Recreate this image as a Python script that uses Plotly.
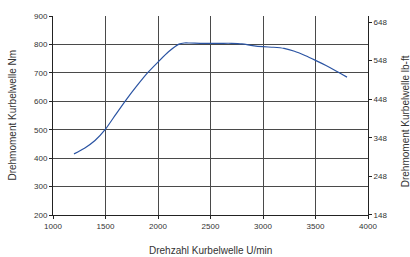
import plotly.graph_objects as go

rpm = [1200, 1300, 1400, 1500, 1600, 1700, 1800, 1900, 2000, 2100, 2200, 2250, 2300,
       2400, 2500, 2600, 2700, 2800, 2900, 3000, 3100, 3200, 3300, 3400, 3500, 3600, 3700, 3800]
torque_nm = [415, 435, 462, 502, 555, 607, 655, 700, 738, 774, 801, 805, 805,
             804, 804, 804, 804, 802, 796, 792, 790, 786, 776, 761, 744, 726, 706, 685]

x_ticks = [1000, 1500, 2000, 2500, 3000, 3500, 4000]
y_ticks = [200, 300, 400, 500, 600, 700, 800, 900]
lbft_ticks = [148, 248, 348, 448, 548, 648]
NM_TO_LBFT = 0.73756

x_title = "Drehzahl Kurbelwelle U/min"
y_title = "Drehmoment Kurbelwelle Nm"
y2_title = "Drehmoment Kurbelwelle lb-ft"

font_family = "Liberation Sans, Arial, sans-serif"
grid_color = "#4a4a4a"

fig = go.Figure()
fig.add_trace(go.Scatter(x=rpm, y=torque_nm, mode="lines", line=dict(color="#2b54a3", width=1.2, shape="spline", smoothing=0.6),
                         showlegend=False, hoverinfo="skip"))
# invisible trace on secondary axis
fig.add_trace(go.Scatter(x=[rpm[0]], y=[torque_nm[0] * NM_TO_LBFT], yaxis="y2", mode="markers",
                         marker=dict(opacity=0), showlegend=False, hoverinfo="skip"))

fig.update_layout(
    width=410, height=257,
    margin=dict(l=53, r=42, t=12, b=42),
    paper_bgcolor="white", plot_bgcolor="white",
    font=dict(family=font_family, size=8, color="#333333"),
    xaxis=dict(range=[1000, 4000], tickvals=x_ticks, ticktext=[str(v) for v in x_ticks],
               showgrid=True, gridcolor=grid_color, gridwidth=1,
               showline=True, linecolor="#222222", linewidth=1,
               ticks="outside", ticklen=3, tickcolor="#222222", zeroline=False,
               tickfont=dict(size=8, color="#333333"), fixedrange=True),
    yaxis=dict(range=[200, 900], tickvals=y_ticks, ticktext=[str(v) for v in y_ticks],
               showgrid=True, gridcolor=grid_color, gridwidth=1,
               showline=True, linecolor="#222222", linewidth=1,
               ticks="outside", ticklen=3, tickcolor="#222222", zeroline=False,
               tickfont=dict(size=8, color="#333333"), fixedrange=True),
    yaxis2=dict(overlaying="y", side="right",
                range=[200 * NM_TO_LBFT, 900 * NM_TO_LBFT],
                tickvals=lbft_ticks, ticktext=[str(v) for v in lbft_ticks],
                showgrid=False, showline=True, linecolor="#222222", linewidth=1,
                ticks="outside", ticklen=3, tickcolor="#222222", zeroline=False,
                tickfont=dict(size=8, color="#333333"), fixedrange=True),
    annotations=[
        dict(text=x_title, xref="paper", yref="paper", x=0.5, y=-0.177,
             xanchor="center", yanchor="middle", showarrow=False,
             font=dict(size=10, color="#333333")),
        dict(text=y_title, xref="paper", yref="paper", x=-0.130, y=0.5,
             xanchor="center", yanchor="middle", textangle=-90, showarrow=False,
             font=dict(size=10, color="#333333")),
        dict(text=y2_title, xref="paper", yref="paper", x=1.12, y=0.47,
             xanchor="center", yanchor="middle", textangle=-90, showarrow=False,
             font=dict(size=10, color="#333333")),
    ],
)

fig.write_html("out.html", config={"displayModeBar": False, "staticPlot": True})

# remove default page margin so the figure sits at the window's top-left corner
with open("out.html", "r", encoding="utf-8") as f:
    html = f.read()
html = html.replace("<head>", "<head><style>html,body{margin:0;padding:0;overflow:hidden;}</style>", 1)
with open("out.html", "w", encoding="utf-8") as f:
    f.write(html)
